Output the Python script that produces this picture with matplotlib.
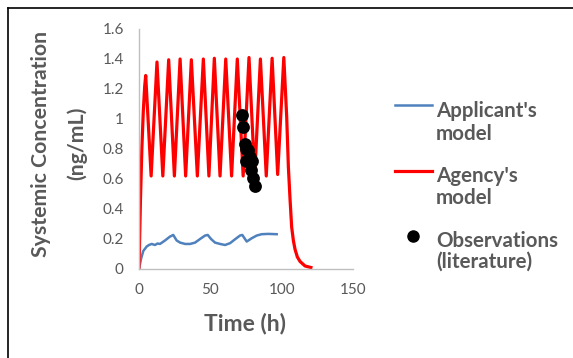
import matplotlib.pyplot as plt
from matplotlib.lines import Line2D
from matplotlib.ticker import FuncFormatter

# Agency's model (red): start, peaks/troughs, washout
red_t = [0, 1, 2, 3, 4, 4.7, 8.5, 12.6, 16.7, 20.8, 24.8, 28.8, 32.7, 36.7, 40.9,
         45.1, 49, 52.8, 56.8, 60.8, 64.9, 68.9, 73, 77.1, 81.1, 85.1, 89.2, 93.3,
         97.2, 101.5, 103.5, 104.7, 105.9, 107, 108.2, 109.4, 111, 112.9, 116.4, 120.5]
red_c = [0, 0.45, 0.8, 1.05, 1.22, 1.29, 0.62, 1.38, 0.62, 1.395, 0.62, 1.40, 0.62,
         1.395, 0.62, 1.40, 0.62, 1.405, 0.62, 1.40, 0.62, 1.40, 0.62, 1.41, 0.62,
         1.40, 0.62, 1.405, 0.63, 1.41, 1.02, 0.68, 0.46, 0.28, 0.19, 0.13, 0.08,
         0.05, 0.02, 0.01]

# Applicant's model (blue)
blue_t = [0, 1.5, 3, 5.4, 7, 8.9, 11.2, 13, 14.7, 18.2, 21.7, 24, 26.4, 28.8, 32.3,
          35.8, 39.3, 42.8, 46.3, 48.2, 50.5, 53.3, 56.8, 60.3, 63.8, 67.3, 70.8,
          72.4, 75.5, 79, 82.5, 86, 90.7, 96.5]
blue_c = [0, 0.07, 0.12, 0.15, 0.16, 0.167, 0.16, 0.17, 0.167, 0.19, 0.216, 0.227,
          0.19, 0.176, 0.167, 0.167, 0.176, 0.2, 0.223, 0.227, 0.2, 0.176, 0.167,
          0.16, 0.172, 0.198, 0.223, 0.227, 0.183, 0.205, 0.223, 0.232, 0.234, 0.232]

# Observations (literature)
obs_t = [72.4, 72.7, 74.3, 75.3, 76.6, 75.0, 77.5, 79.0, 78.3, 80.2, 81.3]
obs_c = [1.03, 0.945, 0.835, 0.80, 0.795, 0.72, 0.75, 0.717, 0.66, 0.606, 0.555]

x_ticks = [0, 50, 100, 150]
y_ticks = [0, 0.2, 0.4, 0.6, 0.8, 1.0, 1.2, 1.4, 1.6]

GREY = '#595959'
BLUE = '#4F81BD'
RED = '#FF0000'
plt.rcParams['font.family'] = ['Lato', 'DejaVu Sans']

W, H = 573, 358
fig = plt.figure(figsize=(W / 100, H / 100), dpi=100)
ax = fig.add_axes([139 / W, 1 - 269 / H, (353 - 139) / W, (269 - 29) / H])

ax.plot(blue_t, blue_c, color=BLUE, lw=1.8, solid_joinstyle='round')
ax.plot(red_t, red_c, color=RED, lw=2.3, solid_joinstyle='round')
ax.scatter(obs_t, obs_c, s=85, color='black', zorder=3, linewidths=0)

ax.set_xlim(0, 150)
ax.set_ylim(0, 1.6)
ax.set_xticks(x_ticks)
ax.set_yticks(y_ticks)
ax.yaxis.set_major_formatter(FuncFormatter(lambda v, p: f'{v:g}'))
ax.tick_params(length=0, labelsize=11, colors=GREY)
ax.tick_params(axis='y', pad=11)
ax.tick_params(axis='x', pad=10)
for s in ['top', 'right']:
    ax.spines[s].set_visible(False)
for s in ['left', 'bottom']:
    ax.spines[s].set_color('#BFBFBF')
    ax.spines[s].set_linewidth(1.0)

# axis titles
fig.text(41 / W, 1 - 143.5 / H, 'Systemic Concentration', rotation=90, ha='center',
         va='center', fontsize=15.3, fontweight='bold', color=GREY)
fig.text(77 / W, 1 - 143.5 / H, '(ng/mL)', rotation=90, ha='center',
         va='center', fontsize=15.3, fontweight='bold', color=GREY)
fig.text(245 / W, 1 - 324 / H, 'Time (h)', ha='center', va='center',
         fontsize=16.5, fontweight='bold', color=GREY)

# legend
def fy(y):
    return 1 - y / H

fig.add_artist(Line2D([395 / W, 432 / W], [fy(105), fy(105)], color=BLUE, lw=1.8))
fig.add_artist(Line2D([395 / W, 432 / W], [fy(171), fy(171)], color=RED, lw=2.3))
fig.add_artist(Line2D([413 / W], [fy(236)], marker='o', ms=8, color='black', lw=0))
legend_lines = [("Applicant's", 117), ('model', 140), ("Agency's", 182), ('model', 204),
                ('Observations', 247), ('(literature)', 268)]
for txt, yb in legend_lines:
    fig.text(436 / W, fy(yb), txt, ha='left', va='baseline', fontsize=14.8,
             fontweight='bold', color=GREY)

# chart frame (top and left edges visible)
fig.add_artist(Line2D([8 / W, 1], [fy(8), fy(8)], color='black', lw=1.2))
fig.add_artist(Line2D([8 / W, 8 / W], [fy(8), 0], color='black', lw=1.2))

fig.savefig('out.png', dpi=100)
